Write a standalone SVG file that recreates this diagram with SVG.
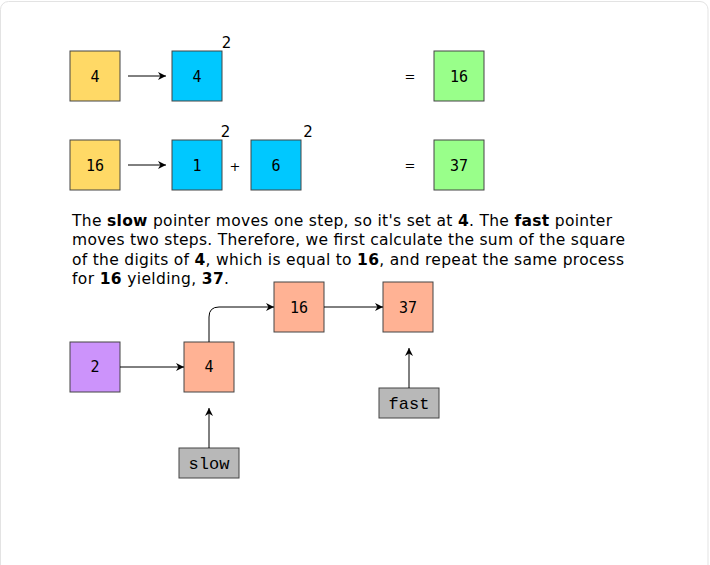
<svg xmlns="http://www.w3.org/2000/svg" width="710" height="565" viewBox="0 0 710 565">
<defs>
<marker id="arr" viewBox="0 0 10 10" refX="10" refY="5" markerWidth="8" markerHeight="8" markerUnits="userSpaceOnUse" orient="auto">
<path d="M0,0 L10,5 L0,10 L3,5 z" fill="#000"/>
</marker>
<style>
.box{stroke:#444;stroke-width:1}
.y{fill:#ffd966}.b{fill:#00c8ff}.g{fill:#99ff8a}.s{fill:#ffb294}.p{fill:#cc93fb}.gr{fill:#b8b8b8}
.t{font-family:"DejaVu Sans Mono",monospace;font-size:15px;fill:#000;text-anchor:middle}
.m{font-family:"Liberation Mono","Courier New",monospace;font-size:17px;fill:#000;text-anchor:middle}
.sup{font-family:"DejaVu Sans",sans-serif;font-size:15px;fill:#000;text-anchor:middle}
.op{font-family:"DejaVu Sans",sans-serif;font-size:13px;fill:#000;text-anchor:middle}
.para{font-family:"DejaVu Sans",Verdana,sans-serif;font-size:15.5px;fill:#000}
.c{fill:none;stroke:#000;stroke-width:1;marker-end:url(#arr)}
</style>
</defs>
<rect x="0.5" y="1.5" width="707.5" height="620" rx="8" fill="#fff" stroke="#e3e3e3"/>

<g id="n-y4"><rect class="box y" x="70" y="51" width="50" height="50"/><text class="t" x="95" y="81.5">4</text></g>
<g id="n-b4"><rect class="box b" x="172" y="51" width="50" height="50"/><text class="t" x="197" y="81.5">4</text></g>
<text class="sup" x="226.5" y="48">2</text>
<text class="op" x="410" y="81">=</text>
<g id="n-g16"><rect class="box g" x="434" y="51" width="50" height="50"/><text class="t" x="459" y="81.5">16</text></g>

<g id="n-y16"><rect class="box y" x="70" y="140" width="50" height="50"/><text class="t" x="95" y="170.5">16</text></g>
<g id="n-b1"><rect class="box b" x="172" y="140" width="50" height="50"/><text class="t" x="197" y="170.5">1</text></g>
<text class="sup" x="225.5" y="137">2</text>
<text class="op" x="235" y="171">+</text>
<g id="n-b6"><rect class="box b" x="251" y="140" width="50" height="50"/><text class="t" x="276" y="170.5">6</text></g>
<text class="sup" x="308" y="137">2</text>
<text class="op" x="410" y="170">=</text>
<g id="n-g37"><rect class="box g" x="434" y="140" width="50" height="50"/><text class="t" x="459" y="170.5">37</text></g>

<text class="para" x="72" y="225.5" textLength="540" lengthAdjust="spacing">The <tspan font-weight="bold">slow</tspan> pointer moves one step, so it's set at <tspan font-weight="bold">4</tspan>. The <tspan font-weight="bold">fast</tspan> pointer</text>
<text class="para" x="72" y="245" textLength="553" lengthAdjust="spacing">moves two steps. Therefore, we first calculate the sum of the square</text>
<text class="para" x="72" y="264.5" textLength="552" lengthAdjust="spacing">of the digits of <tspan font-weight="bold">4</tspan>, which is equal to <tspan font-weight="bold">16</tspan>, and repeat the same process</text>
<text class="para" x="72" y="284" textLength="157" lengthAdjust="spacing">for <tspan font-weight="bold">16</tspan> yielding, <tspan font-weight="bold">37</tspan>.</text>

<g id="n-p2"><rect class="box p" x="70" y="342" width="50" height="50"/><text class="t" x="95" y="372">2</text></g>
<g id="n-s4"><rect class="box s" x="184" y="342" width="50" height="50"/><text class="t" x="209" y="372">4</text></g>
<g id="n-s16"><rect class="box s" x="274" y="282" width="50" height="50"/><text class="t" x="299" y="312.5">16</text></g>
<g id="n-s37"><rect class="box s" x="383" y="282" width="50" height="50"/><text class="t" x="408" y="312.5">37</text></g>
<g id="n-slow"><rect class="box gr" x="179" y="448" width="60" height="30"/><text class="m" x="209" y="468.5">slow</text></g>
<g id="n-fast"><rect class="box gr" x="379" y="388" width="60" height="30"/><text class="m" x="409" y="408.5">fast</text></g>

<g id="connectors">
<path class="c" d="M128,76 L166,76"/>
<path class="c" d="M128,165 L166,165"/>
<path class="c" d="M120,367 L184,367"/>
<path class="c" d="M209,342 L209,317 Q209,307 219,307 L274,307"/>
<path class="c" d="M324,307 L383,307"/>
<path class="c" d="M209,448 L209,408"/>
<path class="c" d="M409,388 L409,348"/>
</g>
</svg>
